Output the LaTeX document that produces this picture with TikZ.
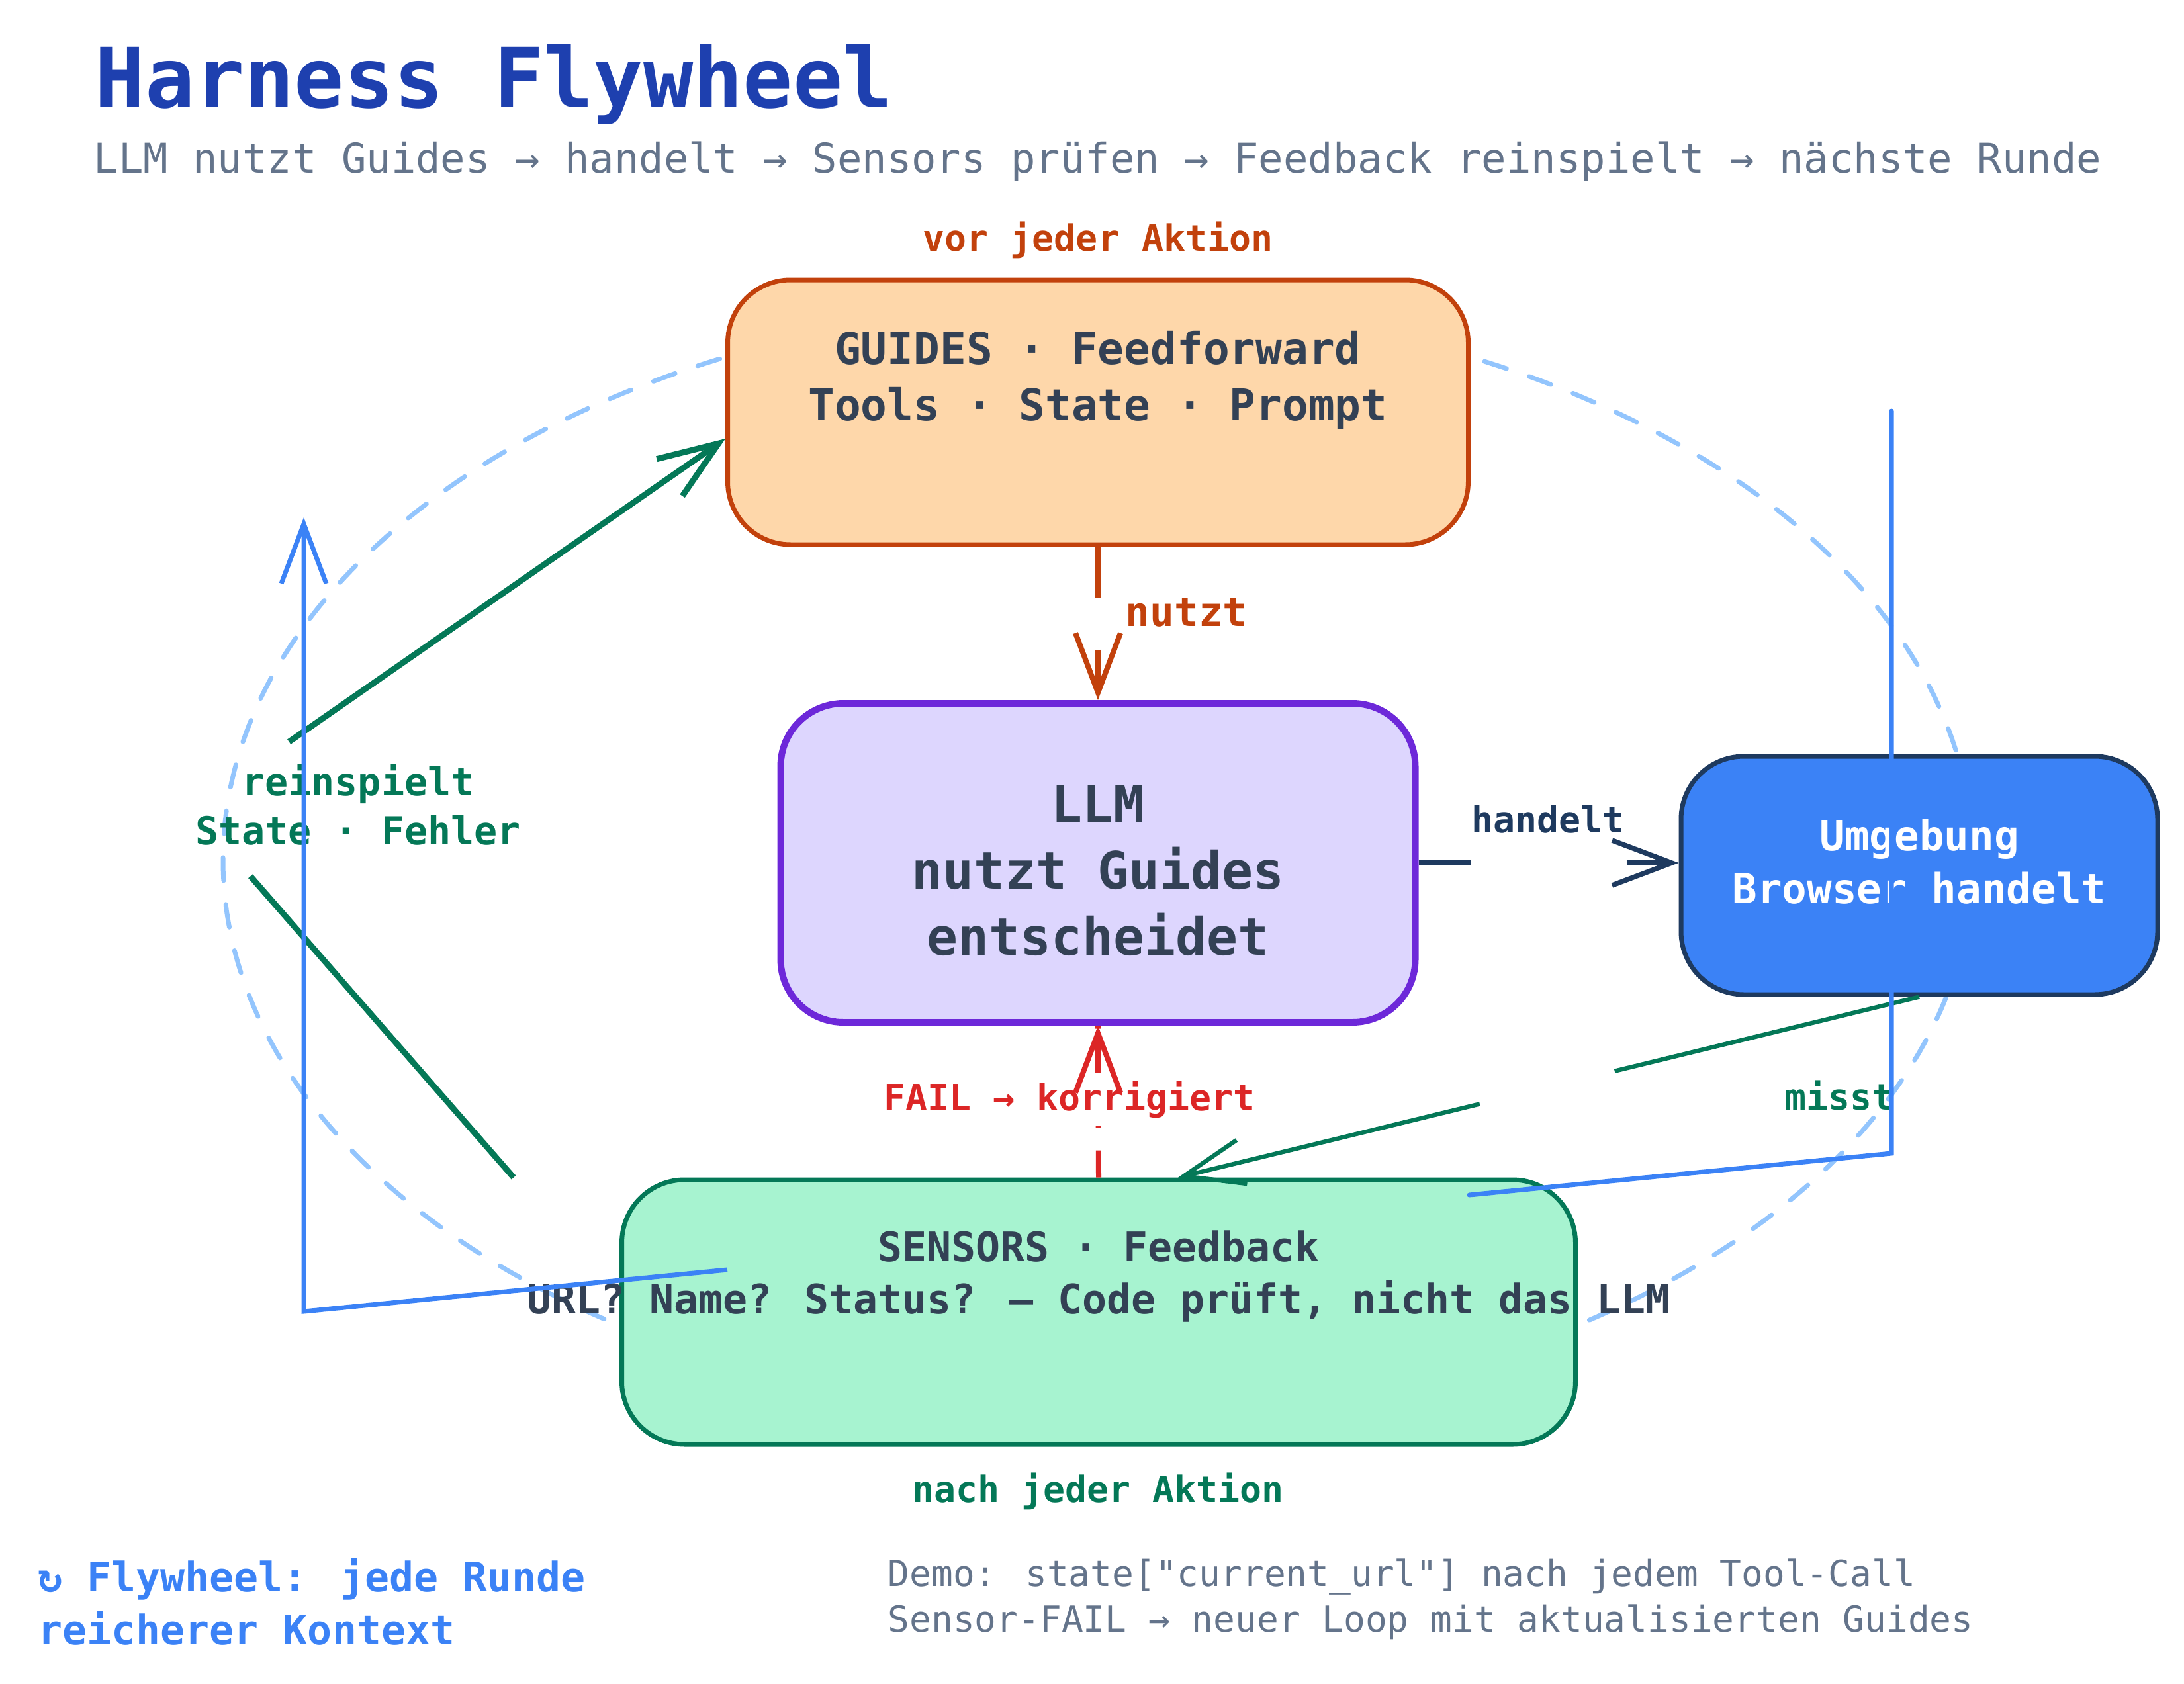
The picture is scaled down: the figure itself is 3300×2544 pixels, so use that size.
\documentclass[tikz,border=0pt]{standalone}
\usepackage{fontspec}
\setmainfont{DejaVu Sans Mono}
\usetikzlibrary{arrows.meta}

\definecolor{titleblue}{HTML}{1E40AF}
\definecolor{subgray}{HTML}{64748B}
\definecolor{inktext}{HTML}{334155}
\definecolor{guidefill}{HTML}{FED7AA}
\definecolor{guideline}{HTML}{C2410C}
\definecolor{llmfill}{HTML}{DDD6FE}
\definecolor{llmline}{HTML}{6D28D9}
\definecolor{umgfill}{HTML}{3B82F6}
\definecolor{umgline}{HTML}{1E3A5F}
\definecolor{sensfill}{HTML}{A7F3D0}
\definecolor{sensline}{HTML}{047857}
\definecolor{failred}{HTML}{DC2626}
\definecolor{ringblue}{HTML}{93C5FD}

\newcommand{\fsz}[2]{\fontsize{#1}{#2}\selectfont}
\newcommand{\rows}[1]{\begin{tabular}[t]{@{}c@{}}#1\end{tabular}}
\newcommand{\rowsl}[1]{\begin{tabular}[t]{@{}l@{}}#1\end{tabular}}

\begin{document}
\begin{tikzpicture}[x=0.1mm, y=-0.1mm,
    box/.style={draw, rounded corners=9.5mm, line width=0.7mm, inner sep=0pt},
    txt/.style={inner sep=0pt, anchor=base},
    tag/.style={txt, font=\fsz{15.6pt}{19pt}\bfseries},
    tip/.style={-{Straight Barb[length=9mm, width=6.8mm]}},
    ring/.style={draw=ringblue, line width=0.7mm, line cap=round,
                 dash pattern=on 3.5mm off 3.6mm},
    loopline/.style={draw=umgfill, line width=0.7mm}]
  \useasboundingbox (0,0) rectangle (3300,2544);

  % dashed flywheel ring behind everything
  \draw[ring] (1659,1300) ellipse [x radius=1322, y radius=840];

  % boxes
  \node[box, fill=guidefill, draw=guideline, minimum width=111.9mm, minimum height=40mm]
    (guides) at (1659,623) {};
  \node[box, fill=llmfill, draw=llmline, line width=1mm, minimum width=95.9mm, minimum height=48.2mm]
    (llm) at (1659,1304) {};
  \node[box, fill=umgfill, draw=umgline, minimum width=72mm, minimum height=36mm]
    (umg) at (2900,1323) {};
  \node[box, fill=sensfill, draw=sensline, minimum width=144.1mm, minimum height=40mm]
    (sensors) at (1660,1983) {};

  \node[txt, text=inktext, font=\fsz{18.8pt}{24.2pt}\bfseries] (guidesTxt) at (1659,550)
    {\rows{GUIDES · Feedforward\\Tools · State · Prompt}};
  \node[txt, text=inktext, font=\fsz{22.2pt}{28.5pt}\bfseries] (llmTxt) at (1659,1243)
    {\rows{LLM\\nutzt Guides\\entscheidet}};
  \node[txt, text=white, font=\fsz{17.8pt}{22.8pt}\bfseries] (umgTxt) at (2900,1285)
    {\rows{Umgebung\\Browser handelt}};
  \node[txt, text=inktext, font=\fsz{17.5pt}{22.5pt}\bfseries] (sensTxt) at (1660,1906)
    {\rows{SENSORS · Feedback\\URL? Name? Status? — Code prüft, nicht das LLM}};

  % connectors (each with its gap)
  \path (guides.south) -- (llm.north) coordinate[pos=0.333] (nutztA) coordinate[pos=0.671] (nutztB);
  \draw[draw=guideline, line width=0.8mm] (guides.south) -- (nutztA);
  \draw[draw=guideline, line width=0.8mm, tip] (nutztB) -- (llm.north);
  \node[txt, anchor=base west, text=guideline, font=\fsz{17.4pt}{20pt}\bfseries]
    (nutztLbl) at (1700,946) {nutzt};

  \path (llm.east) -- (llm.east -| umg.west) coordinate[pos=0.2] (handeltA) coordinate[pos=0.8] (handeltB);
  \draw[draw=umgline, line width=0.75mm] (llm.east) -- (handeltA);
  \draw[draw=umgline, line width=0.75mm, tip] (handeltB) -- (llm.east -| umg.west);
  \node[tag, text=umgline] (handeltLbl) at (2339,1258) {handelt};

  \path (umg.south) -- ([xshift=12mm]sensors.north) coordinate[pos=0.411] (misstA) coordinate[pos=0.593] (misstB);
  \draw[draw=sensline, line width=0.65mm] (umg.south) -- (misstA);
  \draw[draw=sensline, line width=0.65mm, tip] (misstB) -- ([xshift=12mm]sensors.north);
  \node[tag, text=sensline] (misstLbl) at (2779,1677) {misst};

  \draw[draw=failred, line width=0.8mm, dash pattern=on 4.1mm off 3.4mm]
    (sensors.north) -- (llm.south);
  \node[tag, text=failred, fill=white, inner sep=1.2mm] (failLbl) at (1616,1678) {FAIL → korrigiert};
  \draw[draw=failred, line width=0.8mm, tip] (failLbl.north -| llm.south) -- (llm.south);

  \coordinate (reinKnick) at (290,1223);
  \path ([xshift=-16mm]sensors.north west) -- (reinKnick) coordinate[pos=0.818] (reinA);
  \path (reinKnick) -- ([yshift=-4mm]guides.west) coordinate[pos=0.182] (reinB);
  \draw[draw=sensline, line width=0.9mm] ([xshift=-16mm]sensors.north west) -- (reinA);
  \draw[draw=sensline, line width=0.9mm, tip] (reinB) -- ([yshift=-4mm]guides.west);
  \node[txt, text=sensline, font=\fsz{16.6pt}{21.3pt}\bfseries] (reinLbl) at (541,1202)
    {\rows{reinspielt\\State · Fehler}};

  % blue loop strokes
  \coordinate (loopL0) at (1099,1919);
  \coordinate (loopL1) at (459,1982);
  \coordinate (loopL2) at (459,782);
  \draw[loopline, tip] (loopL0) -- (loopL1) -- (loopL2);
  \coordinate (loopR0) at (2220,1806);
  \coordinate (loopR1) at (2858,1743);
  \coordinate (loopR2) at (2858,621);
  \draw[loopline, line cap=round] (loopR0) -- (loopR1) -- (loopR2);

  % headings and notes
  \node[txt, anchor=base west, text=titleblue, font=\fsz{35.6pt}{40pt}\bfseries]
    (title) at (143,163) {Harness Flywheel};
  \node[txt, anchor=base west, text=subgray, font=\fsz{17.7pt}{22pt}] (subtitle) at (141,262)
    {LLM nutzt Guides → handelt → Sensors prüfen → Feedback reinspielt → nächste Runde};
  \node[tag, text=guideline] (vorLbl) at (1659,380) {vor jeder Aktion};
  \node[tag, text=sensline] (nachLbl) at (1659,2270) {nach jeder Aktion};
  \node[txt, anchor=base west, text=umgfill, font=\fsz{17.5pt}{23pt}\bfseries] (flyNote) at (57,2405)
    {\rowsl{↻ Flywheel: jede Runde\\reicherer Kontext}};
  \node[txt, anchor=base west, text=subgray, font=\fsz{15.5pt}{19.9pt}] (demoNote) at (1341,2397)
    {\rowsl{Demo: state[\textquotedbl current\_url\textquotedbl] nach jedem Tool-Call\\Sensor-FAIL → neuer Loop mit aktualisierten Guides}};
\end{tikzpicture}
\end{document}
